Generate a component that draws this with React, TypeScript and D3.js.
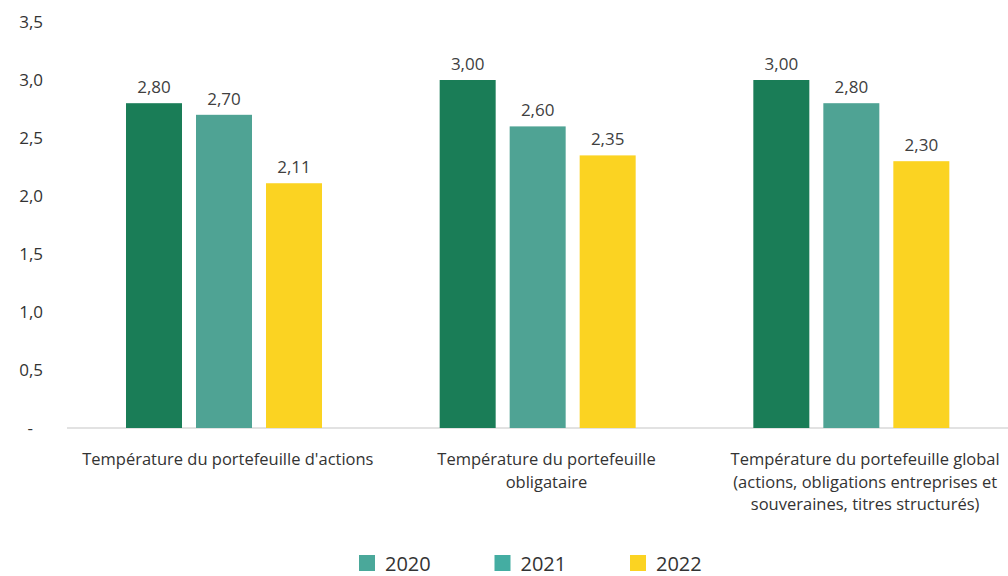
import * as d3 from "d3";

const categories = [
  ["Température du portefeuille d'actions"],
  ["Température du portefeuille", "obligataire"],
  [
    "Température du portefeuille global",
    "(actions, obligations entreprises et",
    "souveraines, titres structurés)",
  ],
];
const years = ["2020", "2021", "2022"];
const values2020 = [2.8, 3.0, 3.0];
const values2021 = [2.7, 2.6, 2.8];
const values2022 = [2.11, 2.35, 2.3];
const yTicks = [0, 0.5, 1, 1.5, 2, 2.5, 3, 3.5];

const barColors = ["#1a7d57", "#4fa394", "#fbd322"];
const legendColors = ["#4aa89a", "#44ada2", "#fbd322"];

const W = 1008;
const H = 576;
const FONT = "'Open Sans', sans-serif";

export default function App() {
  const series = [values2020, values2021, values2022];
  const catKeys = categories.map((c, i) => String(i));

  const y = d3.scaleLinear().domain([0, 3.5]).range([428, 22]);
  const x0 = d3.scaleBand().domain(catKeys).range([67, 1008]).padding(0);
  const x1 = d3
    .scaleBand()
    .domain(years)
    .range([59, 59 + 196])
    .paddingInner(0.2);

  const fmt = (v: number) => v.toFixed(2).replace(".", ",");
  const tickFmt = (v: number) => (v === 0 ? "-" : v.toFixed(1).replace(".", ","));

  const legendX = d3.scalePoint().domain(years).range([359, 630]);

  return (
    <svg
      width={W}
      height={H}
      style={{ position: "absolute", left: 0, top: 0, background: "#fff" }}
      fontFamily={FONT}
    >
      {yTicks.map((t) => (
        <text
          key={t}
          x={t === 0 ? 33 : 43}
          y={y(t)}
          dy="0.35em"
          textAnchor="end"
          fontSize={17}
          fill="#333"
        >
          {tickFmt(t)}
        </text>
      ))}
      <line x1={67} x2={1008} y1={y(0)} y2={y(0)} stroke="#d9d9d9" strokeWidth={1.5} />

      {catKeys.map((k, ci) => (
        <g key={k} transform={`translate(${x0(k)},0)`}>
          {years.map((yr, si) => {
            const v = series[si][ci];
            const bx = x1(yr)!;
            return (
              <g key={yr}>
                <rect
                  x={bx}
                  y={y(v)}
                  width={x1.bandwidth()}
                  height={y(0) - y(v)}
                  fill={barColors[si]}
                />
                <text
                  x={bx + x1.bandwidth() / 2}
                  y={y(v) - 10}
                  textAnchor="middle"
                  fontSize={17}
                  fill="#404040"
                >
                  {fmt(v)}
                </text>
              </g>
            );
          })}
          {categories[ci].map((line, li) => (
            <text
              key={li}
              x={x0.bandwidth() / 2 + 4 + ci * 5}
              y={465 + li * 22.5}
              textAnchor="middle"
              fontSize={16.5}
              fill="#333"
            >
              {line}
            </text>
          ))}
        </g>
      ))}

      {years.map((yr, i) => (
        <g key={yr} transform={`translate(${legendX(yr)},555)`}>
          <rect width={16} height={16} fill={legendColors[i]} />
          <text x={26} y={15.5} fontSize={20} fill="#333">
            {yr}
          </text>
        </g>
      ))}
    </svg>
  );
}
